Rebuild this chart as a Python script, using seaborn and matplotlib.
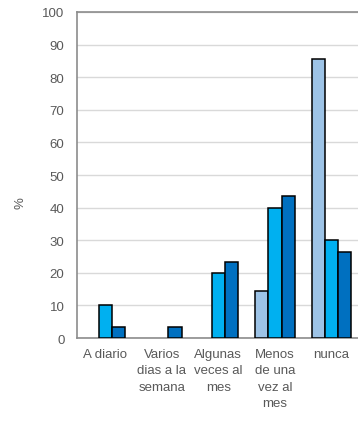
import matplotlib
matplotlib.use("Agg")
import matplotlib.pyplot as plt
import seaborn as sns
import pandas as pd

# Frequency categories and the share (%) for each of the three groups
categorias = ["A diario", "Varios\ndias a la\nsemana", "Algunas\nveces al\nmes",
              "Menos\nde una\nvez al\nmes", "nunca"]
grupo_1 = [0.0, 0.0, 0.0, 14.5, 85.6]
grupo_2 = [10.0, 0.0, 20.0, 40.0, 30.0]
grupo_3 = [3.3, 3.3, 23.3, 43.5, 26.5]
grupos = ["Grupo 1", "Grupo 2", "Grupo 3"]
colores = ["#9DC3E6", "#00B0F0", "#0070C0"]

df = pd.DataFrame({
    "categoria": categorias * 3,
    "grupo": [g for g in grupos for _ in categorias],
    "valor": grupo_1 + grupo_2 + grupo_3,
})

sns.set_theme(style="white")
plt.rcParams["font.family"] = ["Liberation Sans", "DejaVu Sans"]

fig = plt.figure(figsize=(3.58, 4.27), dpi=100)
ax = fig.add_axes([0.215, 0.206, 0.79, 0.7636])

sns.barplot(data=df, x="categoria", y="valor", hue="grupo", order=categorias,
            hue_order=grupos, palette=colores, saturation=1, width=0.7, gap=0,
            edgecolor="black", linewidth=1.1, legend=False, ax=ax, zorder=3)

# empty bars are not drawn at all
for bar in ax.patches:
    if bar.get_height() == 0:
        bar.set_visible(False)

ax.set_ylim(0, 100)
ax.set_yticks(range(0, 101, 10))
ax.yaxis.grid(True, color="#D9D9D9", linewidth=1.0, zorder=0)
ax.set_axisbelow(True)
ax.set_xlim(-0.5, 4.5)

grey = "#8C8C8C"
for side in ["left", "top", "bottom"]:
    ax.spines[side].set_visible(True)
    ax.spines[side].set_color(grey)
    ax.spines[side].set_linewidth(1.2)
ax.spines["right"].set_visible(False)

ax.tick_params(axis="y", length=0, labelsize=9.5, labelcolor="#595959", pad=9)
ax.tick_params(axis="x", direction="in", length=3, color=grey, labelsize=9.5,
               labelcolor="#595959", pad=7)
for lbl in ax.get_xticklabels():
    lbl.set_linespacing(1.5)
    lbl.set_verticalalignment("top")

ax.set_xlabel("")
ax.set_ylabel("%", fontsize=9.5, color="#595959")
ax.yaxis.label.set_verticalalignment("center")
ax.yaxis.set_label_coords(-0.2, 0.417)

fig.savefig("out.png", dpi=100)
